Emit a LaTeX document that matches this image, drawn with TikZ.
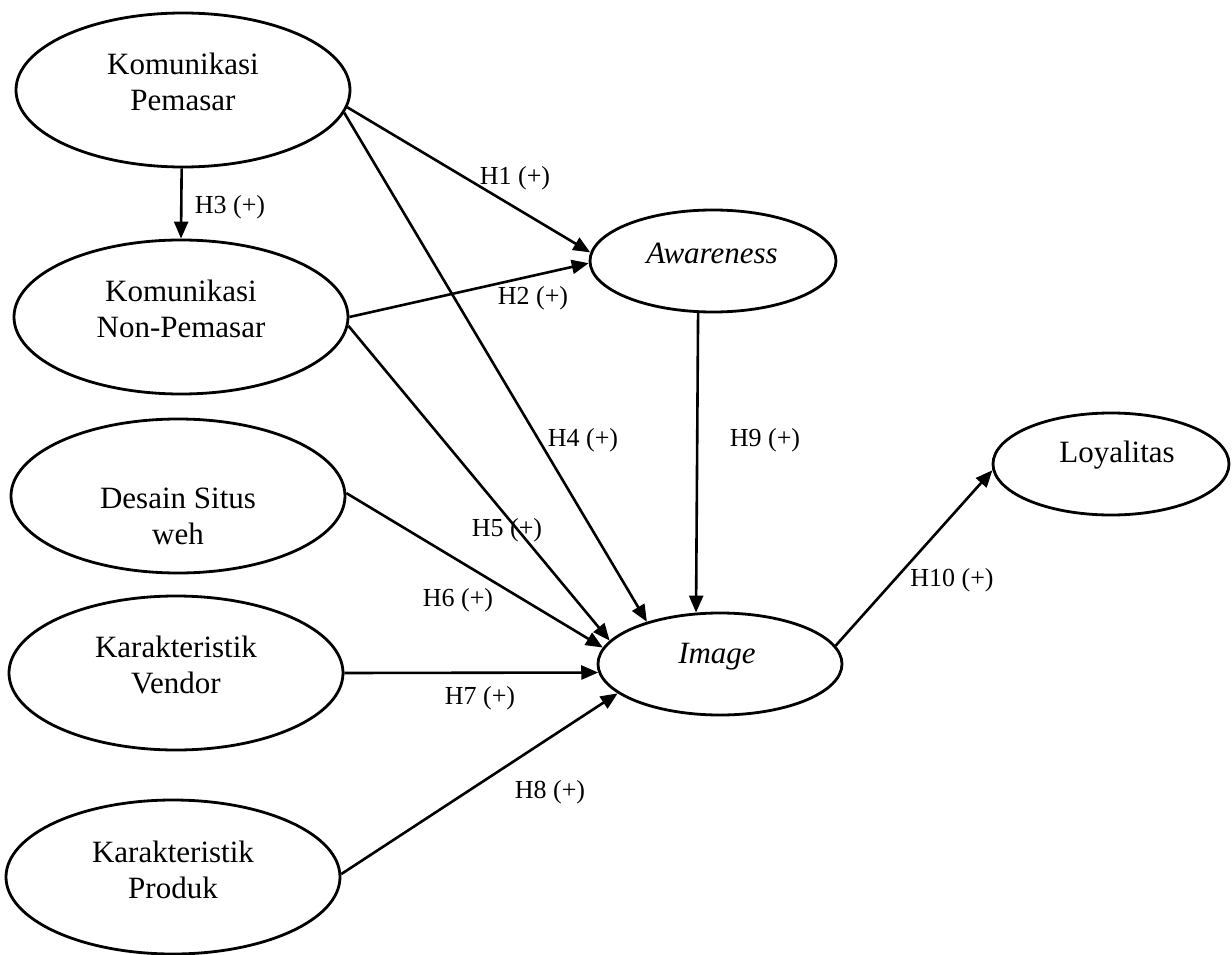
\documentclass[tikz,border=0pt]{standalone}
\usepackage{fontspec}
\setmainfont{Liberation Serif}
\usetikzlibrary{shapes.geometric,arrows.meta}
\begin{document}
\begin{tikzpicture}[x=1pt,y=-1pt,
  oval/.style={draw, ellipse, line width=2.8pt, inner sep=0pt},
  bigoval/.style={oval, minimum width=334pt, minimum height=154pt},
  txt/.style={align=center, font=\fontsize{31}{36}\selectfont, inner sep=0pt},
  hyp/.style={font=\fontsize{26}{28}\selectfont, inner sep=0pt},
  conn/.style={line width=2.6pt, -{Triangle[length=17pt,width=14pt]}}]
\useasboundingbox (0,0) rectangle (1232,955);

% left column
\node[bigoval] (kp) at (183,90) {};
\node[txt] (kpt) at (183,82) {Komunikasi\\Pemasar};
\node[bigoval] (np) at (181,317) {};
\node[txt] (npt) at (181,309) {Komunikasi\\Non-Pemasar};
\node[bigoval] (ds) at (178,496) {};
\node[txt] (dst) at (178,516) {Desain Situs\\weh};
\node[bigoval] (kv) at (176,673) {};
\node[txt] (kvt) at (176,665) {Karakteristik\\Vendor};
\node[bigoval] (kpr) at (173,877) {};
\node[txt] (kprt) at (173,870) {Karakteristik\\Produk};

% right side
\node[oval, minimum width=246pt, minimum height=102pt] (aw) at (713,261) {};
\node[txt, font=\fontsize{31}{36}\selectfont\itshape] (awt) at (712,253) {Awareness};
\node[oval, minimum width=244pt, minimum height=102pt] (im) at (720,664) {};
\node[txt, font=\fontsize{31}{36}\selectfont\itshape] (imt) at (717,657) {Image};
\node[oval, minimum width=236pt, minimum height=102pt] (ly) at (1111,464) {};
\node[txt] (lyt) at (1117,455) {Loyalitas};

% connectors
\draw[conn] (kp.-91) -- (np.90);
\draw[conn] (kp.-6) -- (aw.176);
\draw[conn] (np.0) -- (aw.181);
\draw[conn] (kp.-8) -- (im.150);
\draw[conn] (np.-3) -- (im.168);
\draw[conn] (ds.1) -- (im.172);
\draw[conn] (kv.0) -- (im.184);
\draw[conn] (kpr.1) -- (im.196);
\draw[conn] (aw.254) -- (im.115);
\draw[conn] (im.9) -- (ly.183);

% labels
\node[hyp] (h1) at (515,178) {H1 (+)};
\node[hyp] (h2) at (533,298) {H2 (+)};
\node[hyp] (h3) at (230,207) {H3 (+)};
\node[hyp] (h4) at (583,440) {H4 (+)};
\node[hyp] (h5) at (507,530) {H5 (+)};
\node[hyp] (h6) at (458,600) {H6 (+)};
\node[hyp] (h7) at (480,698) {H7 (+)};
\node[hyp] (h8) at (550,792) {H8 (+)};
\node[hyp] (h9) at (765,440) {H9 (+)};
\node[hyp] (h10) at (952,580) {H10 (+)};
\end{tikzpicture}
\end{document}
